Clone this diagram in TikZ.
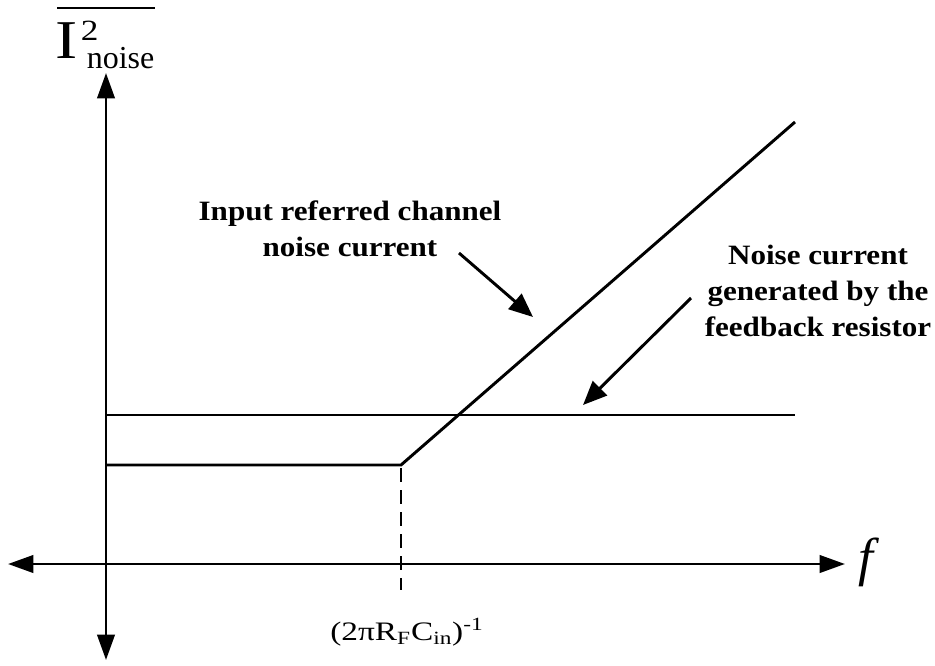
\documentclass[tikz,border=0pt]{standalone}
\usepackage{graphicx}
\usepackage{fontspec}
\setmainfont{Liberation Serif}
\usetikzlibrary{arrows.meta}
\begin{document}
\begin{tikzpicture}[x=0.75pt,y=-0.75pt,
  axis/.style={line width=2.2pt,-{Triangle[length=19pt,width=13pt]}},
  curve/.style={line width=2.2pt},
  pointer/.style={line width=2.2pt,-{Triangle[length=18pt,width=15pt]}},
  guide/.style={line width=2.2pt,dash pattern=on 10.5pt off 6pt},
  label/.style={inner sep=0pt},
  note/.style={font=\fontsize{21}{27}\selectfont\bfseries,align=center,inner sep=0pt,xscale=1.11}]
\useasboundingbox (0,0) rectangle (935,665);
% axes
\coordinate (O) at (106,564);
\coordinate (ytop) at (106,73);
\coordinate (ybot) at (106,660);
\coordinate (xleft) at (8,564);
\coordinate (xright) at (845,564);
\draw[axis] (O) -- (ytop);
\draw[axis] (O) -- (ybot);
\draw[axis] (O) -- (xleft);
\draw[axis] (O) -- (xright);
% noise curves
\coordinate (a0) at (106,465);
\coordinate (corner) at (401,465);
\coordinate (a1) at (795,122);
\coordinate (b0) at (106,415);
\coordinate (b1) at (795,415);
\draw[curve] (a0) -- (corner) -- (a1);
\draw[curve] (b0) -- (b1);
\coordinate (dstart) at (401,468);
\coordinate (dend) at (401,590);
\draw[guide] (dstart) -- (dend);
% axis labels
\node[label,font=\fontsize{40}{40}\selectfont\itshape] (flab) at (866,562) {f};
\node[label,font=\fontsize{20}{20}\selectfont,xscale=1.25] (corner lab) at (407,632)
  {(2\symbol{"03C0}R\textsubscript{F}C\textsubscript{in})\textsuperscript{-1}};
% mean-square noise current on the vertical axis
\node[label,anchor=base west] (ylab) at (55,58)
  {\fontsize{41}{41}\selectfont\scalebox{1.22}[1]{I}%
   \rlap{\kern2.5pt\raisebox{13.5pt}{\fontsize{22}{22}\selectfont\scalebox{1.2}[1]{2}}}%
   \kern7pt\raisebox{-7.5pt}{\fontsize{24}{24}\selectfont noise}};
\coordinate (barL) at (57,8);
\coordinate (barR) at (155,8);
\draw[line width=1.6pt] (barL) -- (barR);
% annotations
\node[note] (chan) at (350,229) {Input referred channel\\noise current};
\node[note] (fb) at (818,291) {Noise current\\generated by the\\feedback resistor};
\coordinate (p1s) at (459,253);
\coordinate (p1e) at (533,317);
\coordinate (p2s) at (691,298);
\coordinate (p2e) at (583,405);
\draw[pointer] (p1s) -- (p1e);
\draw[pointer] (p2s) -- (p2e);
\end{tikzpicture}
\end{document}
